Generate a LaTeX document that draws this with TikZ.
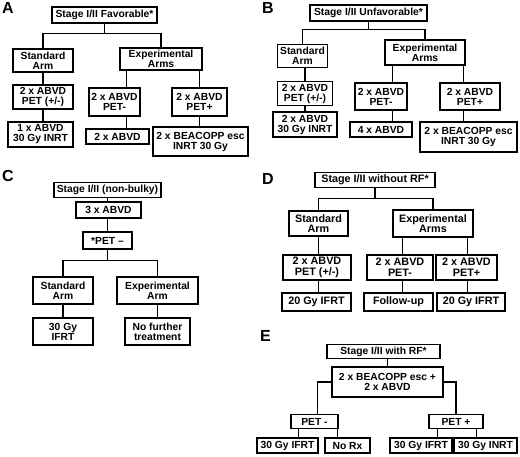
\documentclass[tikz,border=0pt]{standalone}
\usepackage{fontspec}
\setmainfont{Liberation Sans}
\usepackage{tikz}

\begin{document}
\begin{tikzpicture}[x=1pt, y=-1pt]
    % Define styles
    \tikzstyle{box} = [rectangle, draw, fill=white, line width=1.1pt, align=center, inner sep=0pt, font=\bfseries\fontsize{10.3}{10}\selectfont]
    \tikzstyle{bigbox} = [box, font=\bfseries\fontsize{10.8}{10.6}\selectfont]
    \tikzstyle{line} = [line width=1.1pt]
    \tikzstyle{panel} = [anchor=north west, inner sep=0pt, font=\bfseries\fontsize{16}{16}\selectfont]

    \useasboundingbox (0,0) rectangle (520,456);

    % Panel A
    \node[panel] (labA) at (2,2) {A};
    \node[box, minimum width=105, minimum height=16] (topA) at (104.5,15) {Stage I/II Favorable*};
    \node[box, minimum width=60, minimum height=23] (stdA) at (43,60.5) {Standard\\Arm};
    \node[box, minimum width=82, minimum height=22] (expA) at (161,59) {Experimental\\Arms};
    \node[box, minimum width=60, minimum height=24] (petA) at (43,97) {2 x ABVD\\PET (+/-)};
    \node[box, minimum width=51, minimum height=28] (petmA) at (114.5,102) {2 x ABVD\\PET-};
    \node[box, minimum width=55, minimum height=28] (petpA) at (199.5,102) {2 x ABVD\\PET+};
    \node[box, minimum width=65, minimum height=25] (inrtA) at (40.5,134.5) {1 x ABVD\\30 Gy INRT};
    \node[box, minimum width=63, minimum height=15] (abvdA) at (117.5,136.5) {2 x ABVD};
    \node[box, minimum width=95, minimum height=29] (beaA) at (200.5,141.5) {2 x BEACOPP esc\\INRT 30 Gy};

    \coordinate (jA) at ([yshift=-10pt]topA.south);
    \coordinate (mA) at ([xshift=7pt]expA.south west);
    \coordinate (pA) at ([xshift=-3pt]expA.south east);
    \draw[line] (topA) -- (jA);
    \draw[line] (stdA.north) |- (jA) -| (expA.north);
    \draw[line] (stdA) -- (petA);
    \draw[line] (petA.south) -- (petA.south |- inrtA.north);
    \draw[line] (mA) -- (mA |- petmA.north);
    \draw[line] (mA |- petmA.south) -- (mA |- abvdA.north);
    \draw[line] (pA) -- (pA |- petpA.north);
    \draw[line] (pA |- petpA.south) -- (pA |- beaA.north);

    % Panel B
    \node[panel] (labB) at (262,2) {B};
    \node[box, minimum width=117, minimum height=16] (topB) at (368.5,13) {Stage I/II Unfavorable*};
    \node[box, minimum width=50, minimum height=23] (stdB) at (302.5,56) {Standard\\Arm};
    \node[box, minimum width=80, minimum height=25] (expB) at (425,52.5) {Experimental\\Arms};
    \node[box, minimum width=55, minimum height=24] (petB) at (305,93.5) {2 x ABVD\\PET (+/-)};
    \node[box, minimum width=52, minimum height=27] (petmB) at (381,96.5) {2 x ABVD\\PET-};
    \node[box, minimum width=60, minimum height=27] (petpB) at (470,96.5) {2 x ABVD\\PET+};
    \node[box, minimum width=64, minimum height=25] (inrtB) at (305,124.5) {2 x ABVD\\30 Gy INRT};
    \node[box, minimum width=62, minimum height=15] (abvdB) at (381,129.5) {4 x ABVD};
    \node[box, minimum width=97, minimum height=30] (beaB) at (468.5,137) {2 x BEACOPP esc\\INRT 30 Gy};

    \coordinate (jB) at ([yshift=-8pt]topB.south);
    \coordinate (mB) at ([xshift=8pt]expB.south west);
    \coordinate (pB) at ([xshift=-2pt]expB.south east);
    \draw[line] (topB) -- (jB);
    \draw[line] (stdB.north) |- (jB) -| (expB.north);
    \draw[line] (petB.north |- stdB.south) -- (petB.north);
    \draw[line] (petB) -- (inrtB);
    \draw[line] (mB) -- (mB |- petmB.north);
    \draw[line] (mB |- petmB.south) -- (mB |- abvdB.north);
    \draw[line] (pB) -- (pB |- petpB.north);
    \draw[line] (pB |- petpB.south) -- (pB |- beaB.north);

    % Panel C
    \node[panel] (labC) at (2,170) {C};
    \node[box, minimum width=107, minimum height=15] (topC) at (107.5,190) {Stage I/II (non-bulky)};
    \node[box, minimum width=65, minimum height=16] (abvC) at (108.5,210) {3 x ABVD};
    \node[box, minimum width=49, minimum height=17] (petC) at (107.5,240.5) {*PET –};
    \node[box, minimum width=60, minimum height=27] (stdC) at (63,290.5) {Standard\\Arm};
    \node[box, minimum width=81, minimum height=27] (expC) at (157.5,290.5) {Experimental\\Arm};
    \node[box, minimum width=60, minimum height=27] (ifrtC) at (63,331.5) {30 Gy\\IFRT};
    \node[box, minimum width=65, minimum height=27] (noC) at (157.5,331.5) {No further\\treatment};

    \coordinate (jC) at ([yshift=-11pt]petC.south);
    \draw[line] (topC.south) -- (topC.south |- abvC.north);
    \draw[line] (topC.south |- abvC.south) -- (topC.south |- petC.north);
    \draw[line] (petC) -- (jC);
    \draw[line] (stdC.north) |- (jC) -| (expC.north);
    \draw[line] (stdC) -- (ifrtC);
    \draw[line] (expC) -- (noC);

    % Panel D
    \node[panel] (labD) at (262,173) {D};
    \node[bigbox, minimum width=120, minimum height=15] (topD) at (375,180) {Stage I/II without RF*};
    \node[bigbox, minimum width=59, minimum height=25] (stdD) at (318.5,223.5) {Standard\\Arm};
    \node[bigbox, minimum width=80, minimum height=27] (expD) at (433,223.5) {Experimental\\Arms};
    \node[bigbox, minimum width=68, minimum height=25] (petD) at (317,267.5) {2 x ABVD\\PET (+/-)};
    \node[bigbox, minimum width=66, minimum height=25] (petmD) at (400,267.5) {2 x ABVD\\PET-};
    \node[bigbox, minimum width=61, minimum height=25] (petpD) at (466.5,267.5) {2 x ABVD\\PET+};
    \node[bigbox, minimum width=69, minimum height=18] (ifrtD) at (316.5,302) {20 Gy IFRT};
    \node[bigbox, minimum width=69, minimum height=18] (fuD) at (398.5,302) {Follow-up};
    \node[bigbox, minimum width=68, minimum height=18] (ifrt2D) at (471,302) {20 Gy IFRT};

    \coordinate (jD) at ([yshift=-10.5pt]topD.south);
    \coordinate (mD) at ([xshift=10pt]expD.south west);
    \coordinate (pD) at ([xshift=-6pt]expD.south east);
    \draw[line] (topD) -- (jD);
    \draw[line] (stdD.north) |- (jD) -| (expD.north);
    \draw[line] (stdD.south) -- (stdD.south |- petD.north);
    \draw[line] (stdD.south |- petD.south) -- (stdD.south |- ifrtD.north);
    \draw[line] (mD) -- (mD |- petmD.north);
    \draw[line] (mD |- petmD.south) -- (mD |- fuD.north);
    \draw[line] (pD) -- (pD |- petpD.north);
    \draw[line] (pD |- petpD.south) -- (pD |- ifrt2D.north);

    % Panel E
    \node[panel] (labE) at (260,330) {E};
    \node[box, minimum width=113, minimum height=14] (topE) at (383.5,351.5) {Stage I/II with RF*};
    \node[box, minimum width=111, minimum height=30] (beaE) at (387.5,382) {2 x BEACOPP esc +\\2 x ABVD};
    \node[box, minimum width=47, minimum height=14] (petmE) at (314.5,421.5) {PET -};
    \node[box, minimum width=54, minimum height=14] (petpE) at (456,421.5) {PET +};
    \node[box, minimum width=61, minimum height=15] (ifrtE) at (287.5,445.5) {30 Gy IFRT};
    \node[box, minimum width=45, minimum height=15] (noE) at (347.5,445.5) {No Rx};
    \node[box, minimum width=62, minimum height=15] (ifrt2E) at (421,445.5) {30 Gy IFRT};
    \node[box, minimum width=63, minimum height=15] (inrtE) at (485.5,445.5) {30 Gy INRT};

    \coordinate (e1) at ([xshift=8pt]petmE.south west);
    \coordinate (e2) at ([xshift=-1.5pt]petmE.south east);
    \coordinate (e3) at ([xshift=9pt]petpE.south west);
    \coordinate (e4) at ([xshift=-7pt]petpE.south east);
    \draw[line] (topE.south -| beaE.north) -- (beaE.north);
    \draw[line] (beaE.west) -| ([xshift=3pt]petmE.north);
    \draw[line] (beaE.east) -| (petpE.north);
    \draw[line] (e1) -- (e1 |- ifrtE.north);
    \draw[line] (e2) -- (e2 |- noE.north);
    \draw[line] (e3) -- (e3 |- ifrt2E.north);
    \draw[line] (e4) -- (e4 |- inrtE.north);
\end{tikzpicture}
\end{document}
